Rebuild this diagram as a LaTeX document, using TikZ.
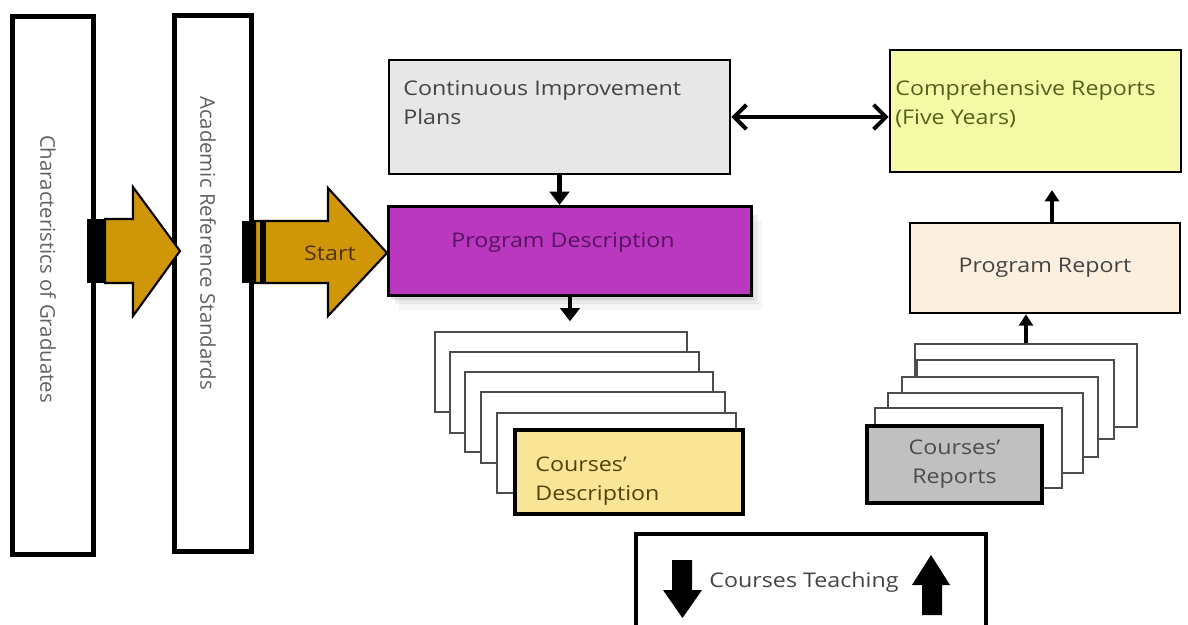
\documentclass[tikz,border=0pt]{standalone}
\usepackage{fontspec}
\setmainfont[FakeStretch=1.15]{Open Sans}
\newfontfamily\vfont{Open Sans}
\usetikzlibrary{arrows.meta,shadows}
\definecolor{gold}{RGB}{207,150,8}
\definecolor{purp}{RGB}{186,56,192}
\definecolor{purptext}{RGB}{88,18,98}
\definecolor{cipfill}{RGB}{231,231,231}
\definecolor{crfill}{RGB}{244,250,165}
\definecolor{crtext}{RGB}{85,95,30}
\definecolor{prfill}{RGB}{253,239,224}
\definecolor{cdfill}{RGB}{250,228,150}
\definecolor{cdtext}{RGB}{85,65,10}
\definecolor{crepfill}{RGB}{192,192,192}
\definecolor{txt}{RGB}{68,68,68}
\definecolor{starttext}{RGB}{80,50,0}
\tikzset{
  every node/.style={font=\fontsize{11.5}{16.5}\selectfont, text=txt},
  tallbox/.style={draw=black, line width=2.85pt, fill=white, inner sep=0pt},
  mainbox/.style={draw=black, line width=1.5pt, inner sep=0pt},
  frontbox/.style={draw=black, line width=1.8pt, inner sep=0pt},
  sheet/.style={draw=black!70, line width=0.8pt, fill=white, inner sep=0pt},
  plain/.style={inner sep=0pt},
  vtext/.style={rotate=-90, inner sep=0pt, text=black!62, font=\vfont\fontsize{11.6}{14}\selectfont},
  blk/.style={line width=2.8pt, -{Triangle[width=11pt,length=7.5pt]}},
  blksm/.style={line width=2.6pt, -{Triangle[width=8pt,length=6.5pt]}},
  dbl/.style={line width=2.3pt, {Straight Barb[length=7pt,width=14pt]}-{Straight Barb[length=7pt,width=14pt]}},
  blockarrow/.style={fill=gold, draw=black, line width=1.2pt, line join=miter},
  pdshadow/.style={
    drop shadow={shadow xshift=1.5pt, shadow yshift=-2.5pt, opacity=.18},
    drop shadow={shadow xshift=3.5pt, shadow yshift=-5pt, opacity=.12},
    drop shadow={shadow xshift=6pt, shadow yshift=-8pt, opacity=.07}}
}
\begin{document}
\begin{tikzpicture}[x=0.02cm, y=-0.02cm]
\useasboundingbox (0,0) rectangle (1188,625);
\clip (0,0) rectangle (1188,625);

% tall boxes
\node[tallbox, minimum width=1.64cm, minimum height=10.78cm] (grad) at (53,285.5) {};
\node[vtext] (gradt) at (48,269) {Characteristics of Graduates};
\node[tallbox, minimum width=1.53cm, minimum height=10.74cm] (ars) at (213,283.5) {};
\node[vtext] (arst) at (208,243) {Academic Reference Standards};

% main boxes
\node[mainbox, fill=cipfill, minimum width=6.82cm, minimum height=2.28cm] (cip) at (559.5,117) {};
\node[plain, anchor=north west, align=left] (cipt) at (403,80) {Continuous Improvement\\Plans};

\node[mainbox, fill=purp, pdshadow, line width=1.8pt, minimum width=7.26cm, minimum height=1.78cm] (pd) at (570,251) {};
\node[plain, text=purptext] (pdt) at (563,243) {Program Description};

\node[mainbox, fill=crfill, minimum width=5.82cm, minimum height=2.44cm] (cr) at (1035.5,111) {};
\node[plain, anchor=north west, align=left, text=crtext] (crt) at (895,80) {Comprehensive Reports\\(Five Years)};

\node[mainbox, fill=prfill, minimum width=5.4cm, minimum height=1.8cm] (pr) at (1045,268) {Program Report};

% course description stack
\node[sheet, minimum width=5.04cm, minimum height=1.6cm] (r1) at (561,372) {};
\node[sheet, minimum width=4.98cm, minimum height=1.62cm] (r2) at (574.5,392.5) {};
\node[sheet, minimum width=4.96cm, minimum height=1.6cm] (r3) at (589,412) {};
\node[sheet, minimum width=4.88cm, minimum height=1.42cm] (r4) at (603,427.5) {};
\node[sheet, minimum width=4.78cm, minimum height=1.6cm] (r5) at (616.5,453) {};
\node[frontbox, fill=cdfill, minimum width=4.56cm, minimum height=1.68cm] (cd) at (629,472) {};
\node[plain, anchor=north west, align=left, text=cdtext] (cdt) at (535,457) {Courses'\\Description};

% course reports stack
\node[sheet, minimum width=4.44cm, minimum height=1.66cm] (b1) at (1026,385.5) {};
\node[sheet, minimum width=3.94cm, minimum height=1.58cm] (b2) at (1015.5,399.5) {};
\node[sheet, minimum width=3.92cm, minimum height=1.6cm] (b3) at (1000,417) {};
\node[sheet, minimum width=3.9cm, minimum height=1.6cm] (b4) at (985.5,433) {};
\node[sheet, minimum width=3.74cm, minimum height=1.6cm] (b5) at (968.5,448) {};
\node[frontbox, fill=crepfill, align=center, text=black!70, minimum width=3.5cm, minimum height=1.54cm] (crep) at (954.5,464.5) {Courses'\\Reports};

% courses teaching box
\node[frontbox, fill=white, minimum width=7.0cm, minimum height=3.72cm] (ct) at (811,627) {};
\node[plain] (ctt) at (804,582) {Courses Teaching};
\fill[black] (672,560) -- (692,560) -- (692,590) -- (702,590) -- (682.5,618) -- (663,590) -- (672,590) -- cycle;
\fill[black] (922,615) -- (942,615) -- (942,585) -- (950,585) -- (931,555) -- (912,585) -- (922,585) -- cycle;

% block arrows
\fill[black] (87,219) rectangle (105,283);
\draw[blockarrow] (105,219) -- (133,219) -- (133,187) -- (180,251) -- (133,316) -- (133,283) -- (105,283) -- cycle;
\fill[black] (242,221) rectangle (255,283);
\draw[blockarrow] (255,221) -- (328,221) -- (328,188) -- (387,253) -- (328,316) -- (328,283) -- (255,283) -- cycle;
\fill[black] (260,221) rectangle (266,283);
\node[plain, text=starttext] (start) at (330,253) {Start};

% connectors
\draw[blk] (cip.south) -- (cip.south |- pd.north);
\draw[blk, shorten >=0.2cm] (pd.south) -- (pd.south |- r1.north);
\draw[dbl] (cip.east) -- (cip.east -| cr.west);
\coordinate (crtip) at (1052,190);
\draw[blksm] (crtip |- pr.north) -- (crtip);
\draw[blksm] (b1.north) -- (b1.north |- pr.south);
\end{tikzpicture}
\end{document}
